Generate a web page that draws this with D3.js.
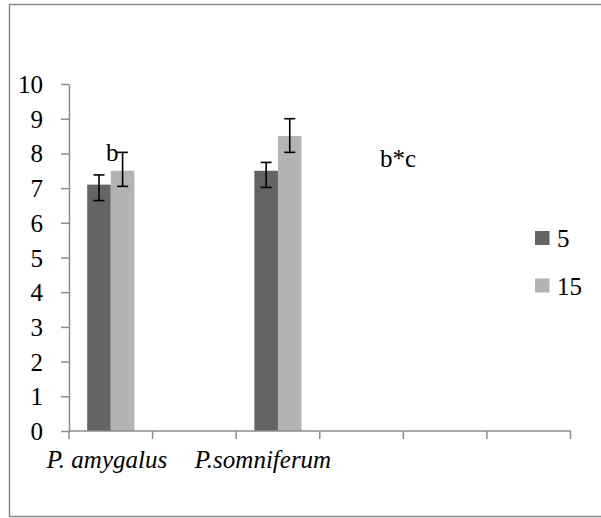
<!DOCTYPE html>
<html>
<head>
<meta charset="utf-8">
<script src="https://cdn.jsdelivr.net/npm/d3@7"></script>
<style>
  body { margin: 0; background: #fff; }
  svg { display: block; }
  text { font-family: "Liberation Serif", "Times New Roman", serif; fill: #000; }
</style>
</head>
<body>
<svg id="chart" width="601" height="518"></svg>
<script>
// data (two species, four empty slots on the axis)
var categories = ["c1", "c2", "c3", "c4", "c5", "c6"];
var seriesNames = ["5", "15"];
var values5 = [7.1, null, 7.5, null, null, null];
var values15 = [7.5, null, 8.5, null, null, null];
var errHigh5 = [7.38, null, 7.74, null, null, null];
var errLow5 = [6.64, null, 7.02, null, null, null];
var errHigh15 = [8.03, null, 9.0, null, null, null];
var errLow15 = [7.05, null, 8.03, null, null, null];
var yTicks = [0, 1, 2, 3, 4, 5, 6, 7, 8, 9, 10];
var speciesLabels = ["P. amygalus", "P.somniferum"];
var letters = ["b", "b*c"];

var colors = { "5": "#646464", "15": "#b3b3b3" };

function renderChart() {
    var svg = d3.select("#chart");

    // outer frame (right edge falls outside the picture)
    svg.append("path")
        .attr("d", "M601,4.5 H9.5 V516.5 H601")
        .attr("fill", "none")
        .attr("stroke", "#8a8a8a")
        .attr("stroke-width", 1.5);

    var plotLeft = 69, plotRight = 570.5, plotTop = 84, plotBottom = 431;

    var x0 = d3.scaleBand().domain(categories).range([plotLeft, plotRight]).padding(0);
    var x1 = d3.scaleBand().domain(seriesNames)
        .range([18.2, x0.bandwidth() - 18.2]).padding(0);
    var y = d3.scaleLinear().domain([0, 10]).range([plotBottom, plotTop]);

    var rows = [];
    categories.forEach(function (c, i) {
        if (values5[i] != null) rows.push({ cat: c, s: "5", v: values5[i], hi: errHigh5[i], lo: errLow5[i] });
        if (values15[i] != null) rows.push({ cat: c, s: "15", v: values15[i], hi: errHigh15[i], lo: errLow15[i] });
    });

    // bars
    svg.selectAll(".bar")
        .data(rows)
        .enter().append("rect")
        .attr("class", "bar")
        .attr("x", function (d) { return x0(d.cat) + x1(d.s); })
        .attr("y", function (d) { return y(d.v); })
        .attr("width", x1.bandwidth())
        .attr("height", function (d) { return y(0) - y(d.v); })
        .attr("fill", function (d) { return colors[d.s]; });

    // error bars
    function cx(d) { return x0(d.cat) + x1(d.s) + x1.bandwidth() / 2; }
    var eb = svg.selectAll(".err").data(rows).enter().append("g").attr("class", "err")
        .attr("stroke", "#000").attr("stroke-width", 1.6);
    eb.append("line")
        .attr("x1", cx).attr("x2", cx)
        .attr("y1", function (d) { return y(d.hi); })
        .attr("y2", function (d) { return y(d.lo); });
    eb.append("line")
        .attr("x1", function (d) { return cx(d) - 5.5; }).attr("x2", function (d) { return cx(d) + 5.5; })
        .attr("y1", function (d) { return y(d.hi); }).attr("y2", function (d) { return y(d.hi); });
    eb.append("line")
        .attr("x1", function (d) { return cx(d) - 5.5; }).attr("x2", function (d) { return cx(d) + 5.5; })
        .attr("y1", function (d) { return y(d.lo); }).attr("y2", function (d) { return y(d.lo); });

    // y axis
    var yAxis = svg.append("g")
        .attr("transform", "translate(" + plotLeft + ",0)")
        .call(d3.axisLeft(y).tickValues(yTicks).tickSize(8).tickSizeOuter(0).tickPadding(18));
    yAxis.attr("font-family", null).attr("font-size", null);
    yAxis.selectAll("line, path").attr("stroke", "#8c8c8c").attr("stroke-width", 1.5);
    yAxis.selectAll("text")
        .style("font-size", "25px")
        .attr("dy", "0.34em")
        .attr("fill", "#000");

    // x axis: ticks at the band edges, no labels
    var edges = categories.map(function (c) { return x0(c); }).concat([plotRight]);
    var xg = svg.append("g").attr("transform", "translate(0," + plotBottom + ")");
    xg.append("line").attr("x1", plotLeft).attr("x2", plotRight)
        .attr("stroke", "#8c8c8c").attr("stroke-width", 1.5);
    xg.selectAll(".xt").data(edges).enter().append("line")
        .attr("x1", function (d) { return d; }).attr("x2", function (d) { return d; })
        .attr("y1", 0).attr("y2", 8)
        .attr("stroke", "#8c8c8c").attr("stroke-width", 1.5);

    // species names typed under the axis
    svg.selectAll(".sp").data(speciesLabels).enter().append("text")
        .attr("class", "sp")
        .attr("x", function (d, i) { return [107, 263][i]; })
        .attr("y", 468)
        .attr("text-anchor", "middle")
        .style("font-size", "25px")
        .style("font-style", "italic")
        .text(function (d) { return d; });

    // significance letters
    svg.selectAll(".lt").data(letters).enter().append("text")
        .attr("class", "lt")
        .attr("x", function (d, i) { return [106, 380][i]; })
        .attr("y", function (d, i) { return [160.5, 166.5][i]; })
        .style("font-size", "25px")
        .text(function (d) { return d; });

    // legend
    var leg = svg.selectAll(".leg").data(seriesNames).enter().append("g")
        .attr("class", "leg")
        .attr("transform", function (d, i) { return "translate(535," + (231 + i * 47.5) + ")"; });
    leg.append("rect").attr("width", 14.5).attr("height", 14)
        .attr("fill", function (d) { return colors[d]; });
    leg.append("text").attr("x", 22).attr("y", 16)
        .style("font-size", "25px")
        .text(function (d) { return d; });
}

renderChart();
</script>
</body>
</html>
